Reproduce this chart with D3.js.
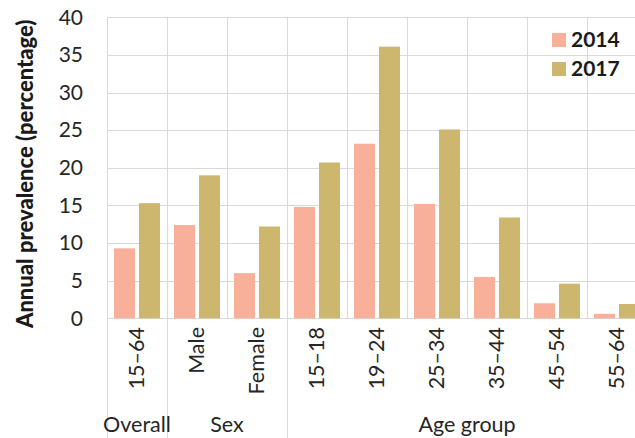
<!DOCTYPE html>
<html lang="en">
<head>
<meta charset="UTF-8">
<title>Annual prevalence 2014 vs 2017</title>
<script src="https://cdn.jsdelivr.net/npm/d3@7/dist/d3.min.js"></script>
<style>
  body { margin: 0; background: #fff; }
  svg { display: block; font-family: Lato, 'Open Sans', sans-serif; }
  .grid line { stroke: #d9d9d9; stroke-width: 1px; }
  .tick-label { font-size: 21.5px; fill: #262626; }
  .legend text { font-size: 21px; font-weight: bold; fill: #1a1a1a; }
</style>
</head>
<body>
<div id="chart"></div>
<script>
// categories and groups
const categories = ["15–64", "Male", "Female", "15–18", "19–24", "25–34", "35–44", "45–54", "55–64"];
const groupNames = ["Overall", "Sex", "Age group"];
const groupOf = ["Overall", "Sex", "Sex", "Age group", "Age group", "Age group", "Age group", "Age group", "Age group"];
const years = ["2014", "2017"];
// annual prevalence (%)
const values2014 = [9.3, 12.4, 6.0, 14.8, 23.2, 15.2, 5.5, 2.0, 0.6];
const values2017 = [15.3, 19.0, 12.2, 20.7, 36.1, 25.1, 13.4, 4.6, 1.9];
const yTicks = [0, 5, 10, 15, 20, 25, 30, 35, 40];

const colors = { "2014": "#F8B09A", "2017": "#CDB76F" };

const width = 635, height = 438;
const plot = { left: 107, top: 17.3, bottom: 318.3, right: 647 }; // last band runs off the edge like the source

const svg = d3.select("#chart").append("svg")
  .attr("width", width)
  .attr("height", height);

const x = d3.scaleBand().domain(categories).range([plot.left, plot.right]).paddingInner(0).paddingOuter(0);
const xSub = d3.scaleBand().domain(years).range([0, x.bandwidth()]).paddingInner(0.16).paddingOuter(0.28);
const y = d3.scaleLinear().domain([0, 40]).range([plot.bottom, plot.top]);

// gridlines
const grid = svg.append("g").attr("class", "grid");
grid.selectAll(".h").data(yTicks).join("line")
  .attr("x1", plot.left).attr("x2", width)
  .attr("y1", d => Math.round(y(d)) + 0.5).attr("y2", d => Math.round(y(d)) + 0.5);

const boundaries = categories.map(c => x(c));
grid.selectAll(".v").data(boundaries).join("line")
  .attr("x1", d => Math.round(d) + 0.5).attr("x2", d => Math.round(d) + 0.5)
  .attr("y1", plot.top).attr("y2", plot.bottom);

// separators below the axis at group starts
const groupStarts = groupNames.map(g => x(categories[groupOf.indexOf(g)]));
grid.selectAll(".sep").data(groupStarts).join("line")
  .attr("x1", d => Math.round(d) + 0.5).attr("x2", d => Math.round(d) + 0.5)
  .attr("y1", plot.bottom).attr("y2", height);

// bars
const rows = categories.map((c, i) => ({ cat: c, "2014": values2014[i], "2017": values2017[i] }));
const catG = svg.append("g").selectAll("g").data(rows).join("g")
  .attr("transform", d => `translate(${x(d.cat)},0)`);
catG.selectAll("rect").data(d => years.map(yr => ({ yr, v: d[yr] }))).join("rect")
  .attr("x", d => xSub(d.yr))
  .attr("width", xSub.bandwidth())
  .attr("y", d => y(d.v))
  .attr("height", d => y(0) - y(d.v))
  .attr("fill", d => colors[d.yr]);

// y axis labels
const yAxis = d3.axisLeft(y).tickValues(yTicks).tickSize(0).tickPadding(0);
const yG = svg.append("g").attr("transform", `translate(83,0)`).call(yAxis);
yG.select(".domain").remove();
yG.selectAll("text").attr("fill", "#262626")
  .style("font-size", "21px").style("font-family", "Lato, sans-serif");

svg.append("text")
  .attr("transform", `translate(33,${(plot.top + plot.bottom) / 2 + 6}) rotate(-90)`)
  .attr("text-anchor", "middle")
  .style("font-size", "22px").style("font-weight", "900").attr("fill", "#1a1a1a")
  .text("Annual prevalence (percentage)");

// x category labels, rotated
svg.append("g").selectAll("text").data(categories).join("text")
  .attr("class", "tick-label")
  .attr("transform", d => `translate(${x(d) + x.bandwidth() / 2 + 7},327) rotate(-90)`)
  .attr("text-anchor", "end")
  .text(d => d);

// group labels
svg.append("g").selectAll("text").data(groupNames).join("text")
  .attr("class", "tick-label")
  .attr("text-anchor", "middle")
  .attr("x", g => {
    const idx = groupOf.map((v, i) => v === g ? i : -1).filter(i => i >= 0);
    return (x(categories[idx[0]]) + x(categories[idx[idx.length - 1]]) + x.bandwidth()) / 2;
  })
  .attr("y", 432)
  .text(g => g);

// legend
const legend = svg.append("g").attr("class", "legend").attr("transform", "translate(552,33)");
const li = legend.selectAll("g").data(years).join("g")
  .attr("transform", (d, i) => `translate(0,${i * 29})`);
li.append("rect").attr("width", 14).attr("height", 14).attr("fill", d => colors[d]);
li.append("text").attr("x", 19).attr("y", 14).text(d => d);
</script>
</body>
</html>
